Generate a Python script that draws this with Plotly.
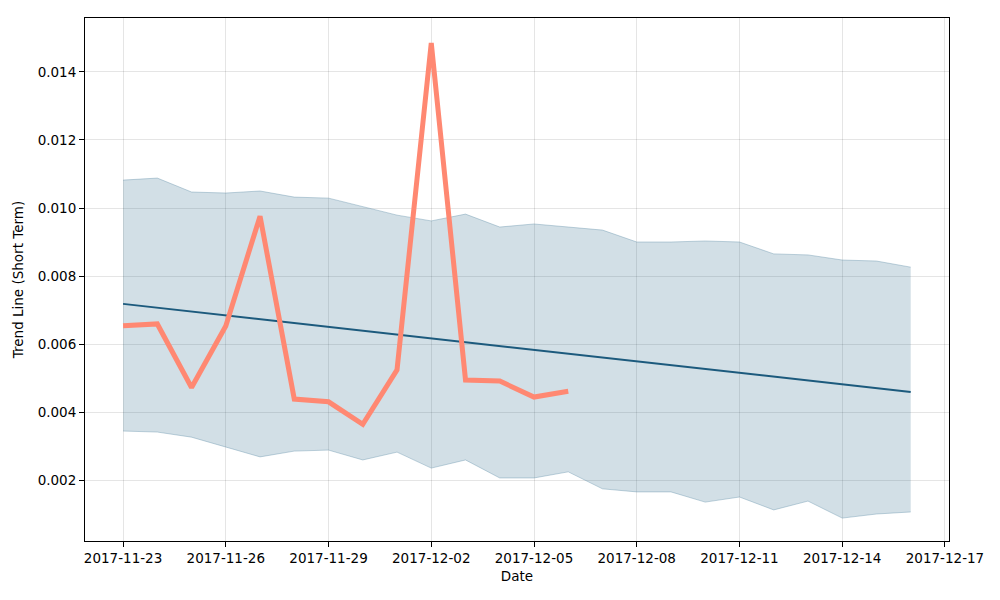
import plotly.graph_objects as go
import pandas as pd

band_dates = pd.date_range("2017-11-23", "2017-12-16", freq="D").strftime("%Y-%m-%d").tolist()
upper = [0.01082, 0.01088, 0.01047, 0.01044, 0.01050, 0.01032, 0.01029, 0.01003,
         0.00979, 0.00962, 0.00982, 0.00944, 0.00953, 0.00944, 0.00935, 0.00900,
         0.00900, 0.00903, 0.00900, 0.00865, 0.00862, 0.00847, 0.00844, 0.00826]
lower = [0.00344, 0.00341, 0.00326, 0.00297, 0.00268, 0.00285, 0.00288, 0.00259,
         0.00282, 0.00235, 0.00259, 0.00206, 0.00206, 0.00224, 0.00174, 0.00165,
         0.00165, 0.00135, 0.00150, 0.00112, 0.00138, 0.00088, 0.00100, 0.00106]

trend_dates = ["2017-11-23", "2017-12-16"]
trend = [0.00718, 0.00459]

actual_dates = band_dates[:14]
actual = [0.00654, 0.00659, 0.00472, 0.00653, 0.00976, 0.00438, 0.00430, 0.00364,
          0.00524, 0.01485, 0.00494, 0.00491, 0.00444, 0.00461]

tick_vals = pd.date_range("2017-11-23", "2017-12-17", freq="3D").strftime("%Y-%m-%d").tolist()

fig = go.Figure()
fig.add_trace(go.Scatter(x=band_dates, y=lower, mode="lines",
                         line=dict(color="rgba(100,145,170,0.4)", width=1),
                         showlegend=False, hoverinfo="skip"))
fig.add_trace(go.Scatter(x=band_dates, y=upper, mode="lines", fill="tonexty",
                         fillcolor="rgba(31,95,128,0.2)",
                         line=dict(color="rgba(100,145,170,0.4)", width=1),
                         showlegend=False, hoverinfo="skip"))
fig.add_trace(go.Scatter(x=trend_dates, y=trend, mode="lines",
                         line=dict(color="#1c5a7d", width=2), showlegend=False))
fig.add_trace(go.Scatter(x=actual_dates, y=actual, mode="lines",
                         line=dict(color="rgb(255,136,114)", width=5), showlegend=False))

axis_common = dict(showline=True, linecolor="black", linewidth=1, mirror=True,
                   ticks="outside", ticklen=5, tickcolor="black",
                   showgrid=True, gridcolor="rgba(0,0,0,0.1)", gridwidth=1,
                   zeroline=False, tickfont=dict(size=13.5, color="black"))

fig.update_layout(
    width=1000, height=600,
    margin=dict(l=85, r=51, t=18, b=59),
    plot_bgcolor="white", paper_bgcolor="white",
    font=dict(family="DejaVu Sans", size=13.5, color="black"),
    xaxis=dict(**axis_common, type="date",
               range=["2017-11-21 21:20", "2017-12-17 02:50"],
               tickvals=tick_vals, ticktext=tick_vals,
               title=dict(text="Date", font=dict(size=13.5), standoff=6)),
    yaxis=dict(**axis_common, range=[0.000206, 0.015588],
               tickvals=[0.002, 0.004, 0.006, 0.008, 0.010, 0.012, 0.014],
               tickformat=".3f",
               title=dict(text="Trend Line (Short Term)", font=dict(size=13.5), standoff=10)),
)

fig.write_html("out.html")
